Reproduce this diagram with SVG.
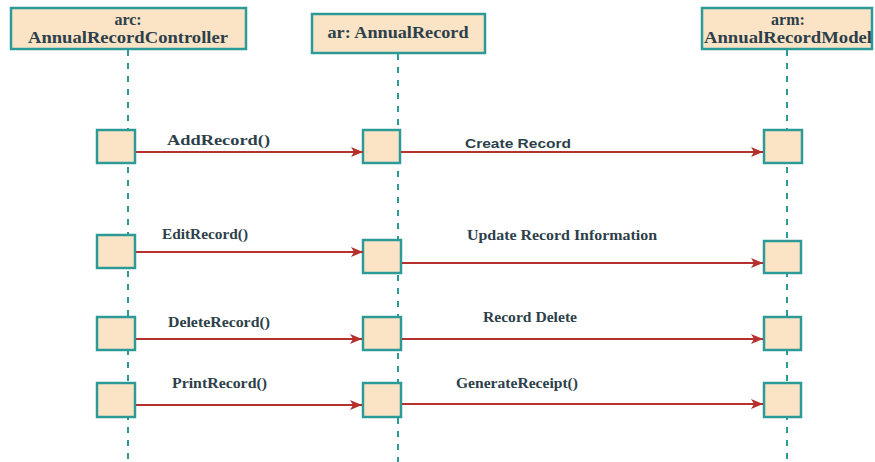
<svg xmlns="http://www.w3.org/2000/svg" width="875" height="462" viewBox="0 0 875 462">
<style>
.hdr{fill:#fbe4c6;stroke:#2e9a98;stroke-width:2.5}
.act{fill:#fbe4c6;stroke:#2e9a98;stroke-width:2.5}
.life{stroke:#2e9a98;stroke-width:2;stroke-dasharray:6,7;fill:none}
.msg{stroke:#b5302e;stroke-width:2;fill:none;marker-end:url(#ah)}
.t{font-family:'Liberation Serif','DejaVu Serif','Times New Roman',serif;font-weight:bold;fill:#2d3f4a}
.s{font-family:'Liberation Sans',Arial,sans-serif;font-weight:bold;fill:#2d3f4a}
</style>
<defs>
<marker id="ah" viewBox="0 0 12 10" refX="12" refY="5" markerWidth="12" markerHeight="10" markerUnits="userSpaceOnUse" orient="auto">
<path d="M0,0 L12,5 L0,10 L3,5 Z" fill="#b5302e"/>
</marker>
</defs>
<rect width="875" height="462" fill="#ffffff"/>
<g id="lifelines">
<line class="life" x1="128" y1="50" x2="128" y2="462"/>
<line class="life" x1="398" y1="54" x2="398" y2="462"/>
<line class="life" x1="787" y1="50" x2="787" y2="462"/>
</g>
<g id="arc">
<rect class="hdr" x="11" y="8" width="235" height="41"/>
<text class="t" x="128" y="25" font-size="16" text-anchor="middle">arc:</text>
<text class="t" x="128" y="43" font-size="16" text-anchor="middle" textLength="200" lengthAdjust="spacingAndGlyphs">AnnualRecordController</text>
</g>
<g id="ar">
<rect class="hdr" x="312" y="14" width="173" height="39"/>
<text class="t" x="398" y="38" font-size="16" text-anchor="middle" textLength="141" lengthAdjust="spacingAndGlyphs">ar: AnnualRecord</text>
</g>
<g id="arm">
<rect class="hdr" x="702" y="8" width="170" height="41"/>
<text class="t" x="788" y="25" font-size="16" text-anchor="middle">arm:</text>
<text class="t" x="788" y="43" font-size="16" text-anchor="middle" textLength="168" lengthAdjust="spacingAndGlyphs">AnnualRecordModel</text>
</g>
<g id="activations">
<rect class="act" x="97" y="130" width="38" height="33"/>
<rect class="act" x="363" y="130" width="37" height="33"/>
<rect class="act" x="764" y="130" width="38" height="33"/>
<rect class="act" x="97" y="235" width="38" height="33"/>
<rect class="act" x="363" y="240" width="38" height="33"/>
<rect class="act" x="764" y="241" width="37" height="32"/>
<rect class="act" x="97" y="317" width="38" height="33"/>
<rect class="act" x="363" y="317" width="38" height="33"/>
<rect class="act" x="764" y="317" width="37" height="33"/>
<rect class="act" x="97" y="383" width="38" height="34"/>
<rect class="act" x="363" y="383" width="38" height="34"/>
<rect class="act" x="764" y="383" width="37" height="34"/>
</g>
<g id="connectors">
<line class="msg" x1="136" y1="152" x2="363" y2="152"/>
<line class="msg" x1="401" y1="152" x2="763" y2="152"/>
<line class="msg" x1="136" y1="252" x2="363" y2="252"/>
<line class="msg" x1="402" y1="263" x2="763" y2="263"/>
<line class="msg" x1="136" y1="339" x2="362" y2="339"/>
<line class="msg" x1="402" y1="339" x2="763" y2="339"/>
<line class="msg" x1="136" y1="405" x2="362" y2="405"/>
<line class="msg" x1="402" y1="404" x2="763" y2="404"/>
</g>
<g id="labels">
<text class="t" x="167" y="145" font-size="15" textLength="103" lengthAdjust="spacingAndGlyphs">AddRecord()</text>
<text class="s" x="465" y="148" font-size="13" textLength="106" lengthAdjust="spacingAndGlyphs">Create Record</text>
<text class="t" x="162" y="239" font-size="14" textLength="86" lengthAdjust="spacingAndGlyphs">EditRecord()</text>
<text class="t" x="467" y="240" font-size="14" textLength="190" lengthAdjust="spacingAndGlyphs">Update Record  Information</text>
<text class="t" x="168" y="327" font-size="14" textLength="102" lengthAdjust="spacingAndGlyphs">DeleteRecord()</text>
<text class="t" x="483" y="322" font-size="14" textLength="94" lengthAdjust="spacingAndGlyphs">Record Delete</text>
<text class="t" x="172" y="388" font-size="14" textLength="95" lengthAdjust="spacingAndGlyphs">PrintRecord()</text>
<text class="t" x="456" y="388" font-size="14" textLength="122" lengthAdjust="spacingAndGlyphs">GenerateReceipt()</text>
</g>
</svg>
